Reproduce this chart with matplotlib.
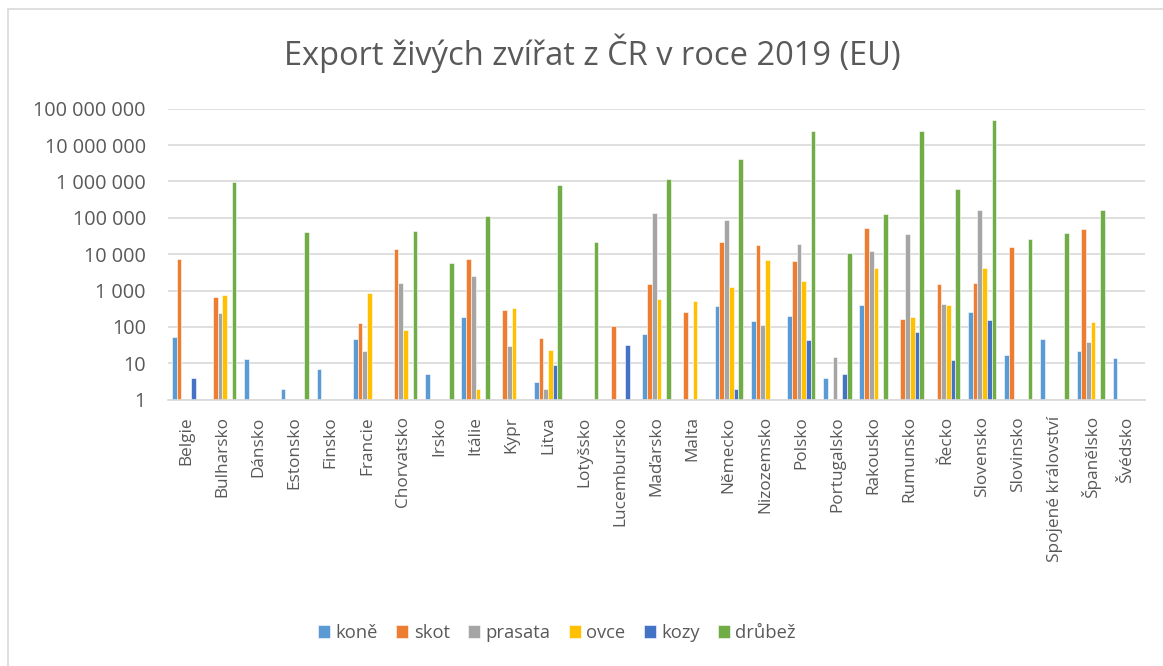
import matplotlib
matplotlib.use("Agg")
import matplotlib.pyplot as plt
import numpy as np
from matplotlib.ticker import FixedLocator, FuncFormatter, NullLocator
from matplotlib.patches import Rectangle

plt.rcParams['font.family'] = ['Open Sans', 'DejaVu Sans']

countries = ["Belgie", "Bulharsko", "Dánsko", "Estonsko", "Finsko", "Francie",
             "Chorvatsko", "Irsko", "Itálie", "Kypr", "Litva", "Lotyšsko",
             "Lucembursko", "Maďarsko", "Malta", "Německo", "Nizozemsko",
             "Polsko", "Portugalsko", "Rakousko", "Rumunsko", "Řecko",
             "Slovensko", "Slovinsko", "Spojené království", "Španělsko", "Švédsko"]

kone    = [53, 0, 13, 2, 7, 46, 0, 5, 190, 0, 3, 0, 0, 65, 0, 380, 150, 205, 4, 395, 0, 0, 250, 17, 48, 22, 14]
skot    = [7400, 650, 0, 0, 0, 130, 13600, 0, 7400, 290, 51, 0, 104, 1480, 255, 22000, 17500, 6300, 0, 52500, 165, 1520, 1620, 16100, 0, 48000, 0]
prasata = [0, 237, 0, 0, 0, 22, 1580, 0, 2500, 30, 2, 0, 0, 136000, 0, 87000, 113, 18700, 15, 12500, 36000, 420, 161000, 0, 0, 38, 0]
ovce    = [0, 740, 0, 0, 0, 840, 84, 0, 2, 340, 23, 0, 0, 600, 530, 1250, 6800, 1870, 0, 4260, 188, 395, 4200, 0, 0, 137, 0]
kozy    = [4, 0, 0, 0, 0, 0, 0, 0, 0, 0, 9, 0, 31, 0, 0, 2, 0, 43, 5, 0, 74, 12, 155, 0, 0, 0, 0]
drubez  = [0, 990000, 0, 40000, 0, 0, 42500, 5700, 112000, 0, 800000, 22000, 0, 1150000, 0, 4150000, 0, 24400000, 10600, 125000, 24400000, 620000, 50000000, 26700, 37500, 161000, 0]

series_names = ["koně", "skot", "prasata", "ovce", "kozy", "drůbež"]
series_vals = [kone, skot, prasata, ovce, kozy, drubez]
colors = ["#5B9BD5", "#ED7D31", "#A5A5A5", "#FFC000", "#4472C4", "#70AD47"]
yticks = [1, 10, 100, 1000, 10000, 100000, 1000000, 10000000, 100000000]

W, H = 1163, 666
fig = plt.figure(figsize=(W / 100, H / 100), dpi=100)
fig.patch.set_facecolor("white")

# chart area border
fig.patches.append(Rectangle((8 / W, -0.1), 1.2, 1 - 9 / H + 0.1, transform=fig.transFigure,
                             fill=False, edgecolor="#D9D9D9", linewidth=1.2, zorder=0))

ax = fig.add_axes([168 / W, 1 - 399.7 / H, (1145 - 168) / W, (399.7 - 108.7) / H])
ax.set_yscale("log")
ax.set_ylim(1, 1e8)
n = len(countries)
x = np.arange(n)
bw = 0.13
for i, (name, vals, c) in enumerate(zip(series_names, series_vals, colors)):
    v = np.array(vals, dtype=float)
    v[v <= 0] = np.nan
    ax.bar(x + (i - 2.5) * bw, v - 1, width=bw, bottom=1, color=c, edgecolor="white",
           linewidth=0.4, label=name, zorder=3)

ax.set_xlim(-0.5, n - 0.5)
ax.yaxis.set_major_locator(FixedLocator(yticks))
ax.yaxis.set_minor_locator(NullLocator())
ax.yaxis.set_major_formatter(FuncFormatter(lambda v, p: f"{int(round(v)):,}".replace(",", " ")))
ax.grid(axis="y", color="#D9D9D9", linewidth=1.2, zorder=0)
for s in ["left", "right", "top"]:
    ax.spines[s].set_visible(False)
ax.spines["bottom"].set_color("#D9D9D9")
ax.spines["bottom"].set_linewidth(1.2)
ax.spines["bottom"].set_zorder(4)
ax.tick_params(axis="both", length=0, colors="#595959")
ax.tick_params(axis="y", pad=16, labelsize=14.3)
ax.tick_params(axis="x", pad=12, labelsize=12.4)
ax.set_xticks(x)
ax.set_xticklabels(countries, rotation=90, va="top", ha="center")

fig.text(592 / W, 1 - 53 / H, "Export živých zvířat z ČR v roce 2019 (EU)", ha="center", va="center",
         fontsize=23.5, color="#595959")

leg = fig.legend(loc="center", bbox_to_anchor=(557 / W, 1 - 633 / H), ncol=6, frameon=False,
                 fontsize=13.2, handlelength=0.65, handleheight=0.65, handletextpad=0.3, columnspacing=1.0,
                 labelcolor="#595959")

fig.savefig("out.png", dpi=100, facecolor="white")
